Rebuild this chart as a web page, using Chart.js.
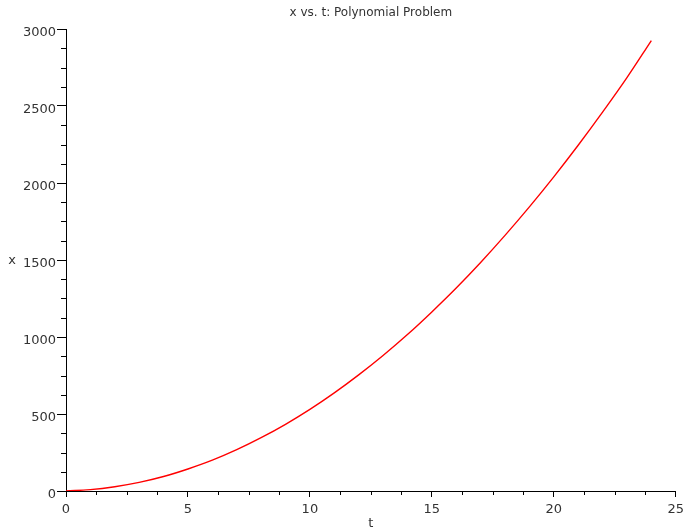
<!DOCTYPE html>
<html>
<head>
<meta charset="utf-8">
<script src="https://cdn.jsdelivr.net/npm/chart.js@4"></script>
<style>
html,body{margin:0;padding:0;background:#fff;}
#wrap{width:689px;height:531px;}
</style>
</head>
<body>
<div id="wrap"><canvas id="c" width="689" height="531"></canvas></div>
<script>
const chartTitle = "x vs. t: Polynomial Problem";
const xAxisTitle = "t";
const yAxisTitle = "x";
const tValues = [0,1,2,3,4,5,6,7,8,9,10,11,12,13,14,15,16,17,18,19,20,21,22,23,24];
const xValues = [0,9,28,56,94,143,200,268,346,433,530,637,754,880,1016,1163,1318,1484,1660,1845,2040,2245,2460,2684,2925];
const xTickMajor = [0,5,10,15,20,25];
const yTickMajor = [0,500,1000,1500,2000,2500,3000];
const xMinorStep = 1.25;
const yMinorStep = 125;

const FONT = "DejaVu Sans";
const TXT = "#333";

const points = tValues.map((t,i)=>({x:t,y:xValues[i]}));

const decor = {
  id:'decor',
  afterDraw(chart){
    const ctx = chart.ctx, xs = chart.scales.x, ys = chart.scales.y, ca = chart.chartArea;
    ctx.save();
    ctx.strokeStyle = '#000';
    ctx.lineWidth = 1;
    ctx.beginPath();
    for(let v=0; v<=25+1e-9; v+=xMinorStep){
      if (Math.abs(v/5-Math.round(v/5))<1e-9) continue;
      const px = Math.round(xs.getPixelForValue(v))+0.5;
      ctx.moveTo(px, ca.bottom); ctx.lineTo(px, ca.bottom+4);
    }
    for(let v=0; v<=3000+1e-9; v+=yMinorStep){
      if (v%500===0) continue;
      const py = Math.round(ys.getPixelForValue(v))+0.5;
      ctx.moveTo(ca.left-5, py); ctx.lineTo(ca.left, py);
    }
    ctx.stroke();
    ctx.fillStyle = TXT;
    ctx.font = "12px '"+FONT+"'";
    ctx.textAlign = 'center';
    ctx.textBaseline = 'middle';
    ctx.fillText(chartTitle, (ca.left+ca.right)/2, 13);
    ctx.font = "13px '"+FONT+"'";
    ctx.fillText(yAxisTitle, 12, (ca.top+ca.bottom)/2 + 1);
    ctx.restore();
  }
};

new Chart(document.getElementById('c'), {
  type:'line',
  data:{datasets:[{
    data:points,
    borderColor:'#ff0000',
    borderWidth:1.4,
    pointRadius:0,
    tension:0.4,
    fill:false
  }]},
  options:{
    responsive:false,
    animation:false,
    events:[],
    layout:{padding:{top:29,right:11,left:0,bottom:0}},
    plugins:{legend:{display:false},tooltip:{enabled:false},title:{display:false}},
    scales:{
      x:{
        type:'linear', min:0, max:25,
        afterBuildTicks(s){ s.ticks = xTickMajor.map(v=>({value:v})); },
        afterFit(s){ s.height = 40; },
        border:{display:true,color:'#000',width:1},
        grid:{drawOnChartArea:false,drawTicks:true,tickLength:6,color:'#000'},
        ticks:{color:TXT,font:{family:FONT,size:13},padding:5,maxRotation:0,autoSkip:false,callback:v=>String(v)},
        title:{display:true,text:xAxisTitle,color:TXT,font:{family:FONT,size:13},padding:{top:0,bottom:0}}
      },
      y:{
        type:'linear', min:0, max:3000,
        afterBuildTicks(s){ s.ticks = yTickMajor.map(v=>({value:v})); },
        afterFit(s){ s.width = 66; },
        border:{display:true,color:'#000',width:1},
        grid:{drawOnChartArea:false,drawTicks:true,tickLength:9,color:'#000'},
        ticks:{color:TXT,font:{family:FONT,size:13},padding:1,labelOffset:4,autoSkip:false,callback:v=>String(v)}
      }
    }
  },
  plugins:[decor]
});
</script>
</body>
</html>
